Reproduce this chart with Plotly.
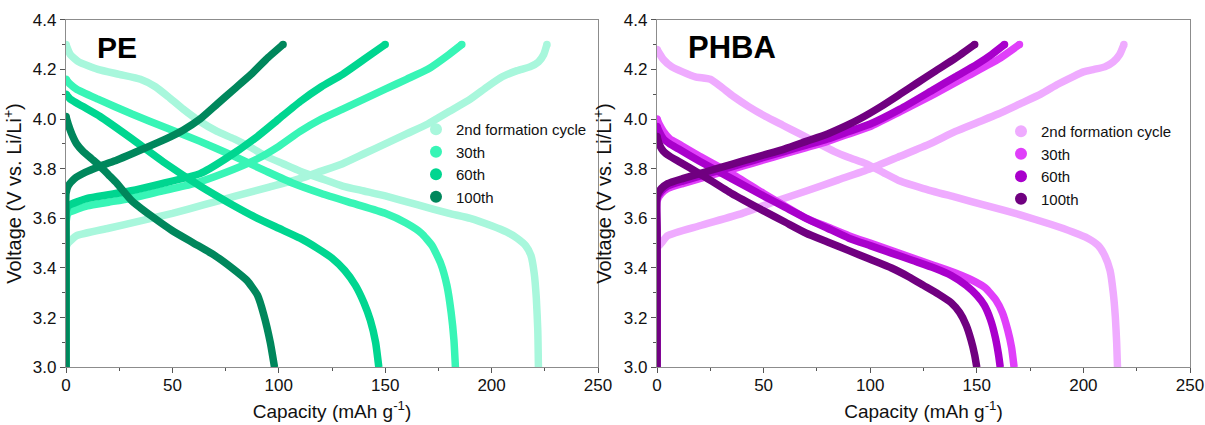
import plotly.graph_objects as go

# ---------------- data (capacity mAh/g, voltage V) ----------------
cycle_labels = ["2nd formation cycle", "30th", "60th", "100th"]

# PE panel
pe_2nd_chg_cap = [0, 0, 0, 1, 5, 20, 35, 50, 65, 80, 95, 110, 120, 130, 140, 150, 160, 170, 180, 190, 198, 205, 212, 218, 222, 224.5, 226]
pe_2nd_chg_v   = [3.0, 3.3, 3.48, 3.5, 3.53, 3.56, 3.59, 3.62, 3.655, 3.69, 3.725, 3.76, 3.79, 3.82, 3.86, 3.9, 3.94, 3.98, 4.03, 4.08, 4.13, 4.17, 4.195, 4.21, 4.23, 4.26, 4.3]
pe_2nd_dis_cap = [0, 2, 6, 15, 25, 35, 42, 48, 55, 63, 71, 79, 87, 94, 102, 110, 120, 130, 140, 150, 165, 180, 190, 200, 207, 212, 216, 218.5, 220, 221, 221.7, 222]
pe_2nd_dis_v   = [4.3, 4.26, 4.23, 4.2, 4.18, 4.16, 4.13, 4.09, 4.04, 3.99, 3.95, 3.92, 3.885, 3.85, 3.82, 3.79, 3.76, 3.73, 3.71, 3.69, 3.655, 3.62, 3.6, 3.57, 3.545, 3.52, 3.49, 3.45, 3.38, 3.28, 3.15, 3.0]

pe_30_chg_cap = [0, 0, 0, 1, 10, 20, 30, 45, 60, 75, 90, 100, 110, 120, 130, 140, 150, 160, 170, 180, 186]
pe_30_chg_v   = [3.0, 3.4, 3.58, 3.62, 3.65, 3.665, 3.68, 3.71, 3.74, 3.785, 3.84, 3.89, 3.95, 4.0, 4.04, 4.08, 4.12, 4.16, 4.2, 4.26, 4.3]
pe_30_dis_cap = [0, 2, 5, 15, 31, 47, 63, 79, 94, 107, 120, 135, 150, 160, 167, 172, 176, 179, 181, 182.3, 183]
pe_30_dis_v   = [4.16, 4.14, 4.12, 4.08, 4.02, 3.965, 3.91, 3.85, 3.79, 3.74, 3.7, 3.66, 3.62, 3.58, 3.54, 3.49, 3.42, 3.33, 3.22, 3.11, 3.0]

pe_60_chg_cap = [0, 0, 0, 1, 10, 20, 30, 45, 63, 75, 90, 100, 110, 120, 130, 140, 150]
pe_60_chg_v   = [3.0, 3.43, 3.62, 3.65, 3.68, 3.695, 3.71, 3.74, 3.78, 3.84, 3.93, 4.0, 4.07, 4.13, 4.18, 4.24, 4.3]
pe_60_dis_cap = [0, 2, 8, 16, 31, 47, 63, 77, 90, 100, 110, 118, 125, 131, 136, 140, 143, 145.5, 147]
pe_60_dis_v   = [4.1, 4.08, 4.05, 4.01, 3.92, 3.82, 3.73, 3.66, 3.6, 3.56, 3.52, 3.48, 3.44, 3.39, 3.33, 3.26, 3.19, 3.1, 3.0]

pe_100_chg_cap = [0, 0, 0, 1, 4, 9, 16, 24, 31, 39, 47, 55, 63, 71, 79, 87, 94, 102]
pe_100_chg_v   = [3.0, 3.55, 3.7, 3.73, 3.76, 3.785, 3.81, 3.835, 3.86, 3.89, 3.92, 3.955, 4.0, 4.06, 4.12, 4.18, 4.24, 4.3]
pe_100_dis_cap = [0, 1, 2.7, 5, 8, 12, 16, 20, 24, 31, 40, 50, 60, 70, 78, 85, 90, 93, 96, 98]
pe_100_dis_v   = [4.01, 3.98, 3.94, 3.9, 3.87, 3.84, 3.81, 3.775, 3.74, 3.67, 3.61, 3.55, 3.5, 3.45, 3.4, 3.35, 3.29, 3.21, 3.1, 3.0]

# PHBA panel
ph_2nd_chg_cap = [0, 0, 0, 2, 5, 20, 40, 56, 70, 85, 100, 114, 128, 140, 150, 160, 170, 180, 188, 195, 200, 205, 210, 214, 217, 219]
ph_2nd_chg_v   = [3.05, 3.3, 3.48, 3.5, 3.53, 3.57, 3.62, 3.67, 3.71, 3.755, 3.8, 3.85, 3.9, 3.95, 3.985, 4.02, 4.06, 4.1, 4.14, 4.17, 4.19, 4.2, 4.21, 4.23, 4.26, 4.3]
ph_2nd_dis_cap = [0, 3, 7, 12, 18, 25, 30, 36, 43, 51, 59, 67, 75, 83, 90, 98, 106, 114, 125, 140, 155, 170, 185, 195, 202, 207, 210, 212.5, 214, 215, 215.6, 216]
ph_2nd_dis_v   = [4.28, 4.24, 4.21, 4.19, 4.17, 4.16, 4.13, 4.09, 4.05, 4.01, 3.975, 3.94, 3.905, 3.87, 3.845, 3.82, 3.785, 3.75, 3.72, 3.685, 3.65, 3.615, 3.575, 3.545, 3.52, 3.49, 3.45, 3.39, 3.3, 3.2, 3.1, 3.0]

ph_30_chg_cap = [0, 0, 0, 2, 5, 12, 20, 30, 40, 50, 60, 70, 80, 90, 100, 114, 130, 145, 160, 170]
ph_30_chg_v   = [3.0, 3.5, 3.67, 3.7, 3.72, 3.74, 3.76, 3.785, 3.81, 3.835, 3.86, 3.885, 3.91, 3.94, 3.97, 4.03, 4.1, 4.17, 4.24, 4.3]
ph_30_dis_cap = [0, 1, 3, 6, 10, 20, 35, 50, 60, 70, 80, 90, 100, 110, 120, 130, 140, 148, 154, 159, 162, 164.5, 166.3, 167.5]
ph_30_dis_v   = [4.0, 3.98, 3.95, 3.92, 3.9, 3.85, 3.78, 3.7, 3.65, 3.6, 3.565, 3.53, 3.5, 3.47, 3.44, 3.41, 3.38, 3.35, 3.32, 3.27, 3.22, 3.15, 3.08, 3.0]

ph_60_chg_cap = [0, 0, 0, 2, 5, 12, 20, 30, 40, 50, 60, 70, 80, 90, 100, 114, 130, 140, 150, 157, 163]
ph_60_chg_v   = [3.0, 3.52, 3.68, 3.71, 3.73, 3.75, 3.77, 3.795, 3.82, 3.845, 3.87, 3.895, 3.92, 3.95, 3.98, 4.04, 4.12, 4.17, 4.22, 4.26, 4.3]
ph_60_dis_cap = [0, 1, 3, 6, 10, 20, 35, 50, 60, 70, 80, 90, 100, 110, 120, 130, 138, 145, 150, 153.5, 156.5, 158.7, 160.2, 161]
ph_60_dis_v   = [3.97, 3.95, 3.92, 3.9, 3.88, 3.83, 3.76, 3.69, 3.645, 3.6, 3.56, 3.52, 3.49, 3.46, 3.43, 3.4, 3.37, 3.33, 3.29, 3.25, 3.19, 3.12, 3.05, 3.0]

ph_100_chg_cap = [0, 0, 0, 2, 5, 12, 20, 30, 40, 50, 60, 70, 80, 88, 95, 105, 114, 122, 130, 140, 149]
ph_100_chg_v   = [3.0, 3.55, 3.69, 3.72, 3.74, 3.76, 3.78, 3.805, 3.83, 3.855, 3.88, 3.91, 3.94, 3.97, 4.0, 4.05, 4.1, 4.145, 4.19, 4.245, 4.3]
ph_100_dis_cap = [0, 1, 3, 6, 10, 20, 35, 50, 60, 70, 80, 90, 100, 110, 118, 125, 132, 138, 142, 145, 147.3, 149, 150]
ph_100_dis_v   = [3.93, 3.9, 3.87, 3.85, 3.83, 3.78, 3.7, 3.63, 3.585, 3.54, 3.505, 3.47, 3.435, 3.4, 3.365, 3.33, 3.295, 3.26, 3.22, 3.17, 3.11, 3.05, 3.0]

pe_colors = ["#a8f7dc", "#38f5b6", "#00d690", "#00875c"]
ph_colors = ["#efabff", "#e03ffa", "#a900cc", "#700080"]

pe_series = [
    (pe_2nd_chg_cap, pe_2nd_chg_v, pe_2nd_dis_cap, pe_2nd_dis_v),
    (pe_30_chg_cap, pe_30_chg_v, pe_30_dis_cap, pe_30_dis_v),
    (pe_60_chg_cap, pe_60_chg_v, pe_60_dis_cap, pe_60_dis_v),
    (pe_100_chg_cap, pe_100_chg_v, pe_100_dis_cap, pe_100_dis_v),
]
ph_series = [
    (ph_2nd_chg_cap, ph_2nd_chg_v, ph_2nd_dis_cap, ph_2nd_dis_v),
    (ph_30_chg_cap, ph_30_chg_v, ph_30_dis_cap, ph_30_dis_v),
    (ph_60_chg_cap, ph_60_chg_v, ph_60_dis_cap, ph_60_dis_v),
    (ph_100_chg_cap, ph_100_chg_v, ph_100_dis_cap, ph_100_dis_v),
]

FONT = "Liberation Sans, Arial, sans-serif"
fig = go.Figure()

def add_panel(series, colors, xa, ya, legend):
    for (cc, cv, dc, dv), col, lab in zip(series, colors, cycle_labels):
        for xs, ys in ((cc, cv), (dc, dv)):
            fig.add_trace(go.Scatter(x=xs, y=ys, mode="lines", xaxis=xa, yaxis=ya,
                                     line=dict(color=col, width=7.5, shape="spline", smoothing=0.5),
                                     showlegend=False, hoverinfo="skip"))
        # rounded ends like the dense-marker look
        fig.add_trace(go.Scatter(x=[cc[-1], dc[0]], y=[cv[-1], dv[0]], mode="markers",
                                 xaxis=xa, yaxis=ya, marker=dict(color=col, size=7.5),
                                 showlegend=False, hoverinfo="skip", cliponaxis=True))
        fig.add_trace(go.Scatter(x=[None], y=[None], mode="markers", xaxis=xa, yaxis=ya,
                                 marker=dict(color=col, size=8), name=lab, legend=legend))

add_panel(pe_series, pe_colors, "x", "y", "legend")
add_panel(ph_series, ph_colors, "x2", "y2", "legend2")

TICKFONT = dict(family=FONT, size=17, color="#111111")
axis_common = dict(
    showline=True, linecolor="#8c8c8c", linewidth=1.3, mirror=True, automargin=False,
    ticks="outside", ticklen=5, tickcolor="#555555", showgrid=False, zeroline=False,
    tickfont=TICKFONT,
)
xminor = dict(ticks="outside", ticklen=3, tickcolor="#555555", dtick=25)
yminor = dict(ticks="outside", ticklen=3, tickcolor="#555555", dtick=0.1)

xdom1 = [66 / 1205, 598 / 1205]
xdom2 = [657 / 1205, 1190 / 1205]
ydom = [(425 - 367.3) / 425, (425 - 19.7) / 425]

xt = dict(text="Capacity (mAh g<sup>-1</sup>)", font=dict(family=FONT, size=19, color="#111111"), standoff=10)
yt = dict(text="Voltage (V vs. Li/Li<sup>+</sup>)", font=dict(family=FONT, size=20, color="#111111"), standoff=6)

LEGFONT = dict(family=FONT, size=15, color="#111111")
fig.update_layout(
    width=1205, height=425, margin=dict(l=0, r=0, t=0, b=0, autoexpand=False),
    paper_bgcolor="white", plot_bgcolor="white",
    font=dict(family=FONT, color="#111111"),
    xaxis=dict(axis_common, domain=xdom1, range=[0, 250], dtick=50, anchor="y", minor=xminor,
               title=xt, ticklabelstandoff=-3),
    yaxis=dict(axis_common, domain=ydom, range=[3.0, 4.4], dtick=0.2, tickformat=".1f", anchor="x",
               minor=yminor, title=yt),
    xaxis2=dict(axis_common, domain=xdom2, range=[0, 250], dtick=50, anchor="y2", minor=xminor,
                title=xt, ticklabelstandoff=-3),
    yaxis2=dict(axis_common, domain=ydom, range=[3.0, 4.4], dtick=0.2, tickformat=".1f", anchor="x2",
                minor=yminor, title=yt),
    legend=dict(x=416 / 1205, y=1 - 113 / 425, xanchor="left", yanchor="top",
                bgcolor="rgba(0,0,0,0)", font=LEGFONT, tracegroupgap=0, itemsizing="constant"),
    legend2=dict(x=1001 / 1205, y=1 - 115 / 425, xanchor="left", yanchor="top",
                 bgcolor="rgba(0,0,0,0)", font=LEGFONT, tracegroupgap=0, itemsizing="constant"),
    annotations=[
        dict(text="<b>PE</b>", x=95 / 1205, y=1 - 47 / 425, xref="paper", yref="paper",
             xanchor="left", yanchor="middle", showarrow=False,
             font=dict(family=FONT, size=30, color="black")),
        dict(text="<b>PHBA</b>", x=686 / 1205, y=1 - 47 / 425, xref="paper", yref="paper",
             xanchor="left", yanchor="middle", showarrow=False,
             font=dict(family=FONT, size=31, color="black")),
    ],
)

fig.write_html("out.html")
